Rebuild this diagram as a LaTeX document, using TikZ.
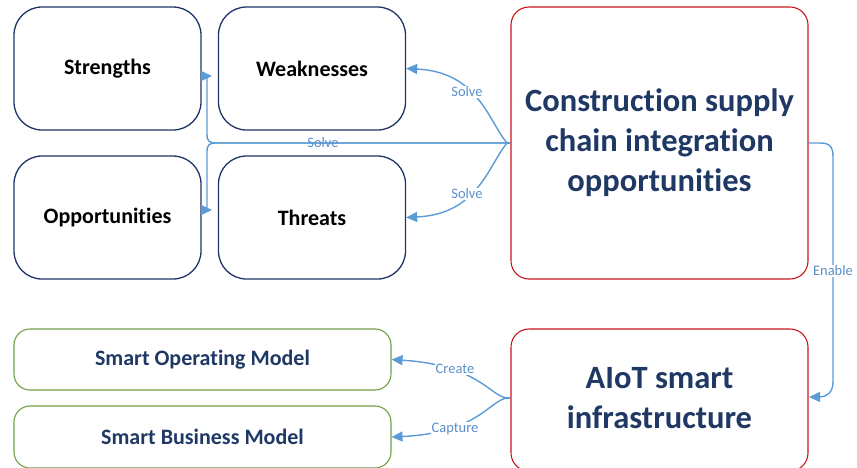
\documentclass[tikz,border=0pt]{standalone}
\usepackage{fontspec}
\setmainfont[Ligatures=NoCommon]{Carlito}
\usetikzlibrary{arrows.meta}
\definecolor{navy}{HTML}{1F3864}
\definecolor{boxnavy}{HTML}{1F3468}
\definecolor{conn}{HTML}{5B9BD5}
\definecolor{redb}{HTML}{C8161D}
\definecolor{greenb}{HTML}{6FA04A}
\definecolor{labelc}{HTML}{5B8FC8}
\tikzset{
  swot/.style={draw=boxnavy, line width=1.3pt, rounded corners=28pt, minimum width=187pt, minimum height=123pt,
    font=\fontsize{22}{26}\selectfont\bfseries, text=black},
  bigtext/.style={font=\fontsize{32.5}{40}\selectfont\bfseries, text=navy, align=center},
  bigbox/.style={draw=redb, line width=1.1pt, rounded corners=18pt, minimum width=297pt, bigtext},
  modelbox/.style={draw=greenb, line width=1.1pt, rounded corners=16pt, minimum width=377pt,
    font=\fontsize{22}{26}\selectfont\bfseries, text=navy},
  cn/.style={draw=conn, line width=1.4pt},
  cna/.style={cn, -{Triangle[length=11pt,width=10pt]}},
  lbl/.style={fill=white, inner sep=1pt, text=labelc, font=\fontsize{14.5}{16}\selectfont}
}
\begin{document}
\begin{tikzpicture}[x=1pt,y=-1pt]
\useasboundingbox (0,0) rectangle (857,467);
\clip (0,0) rectangle (857,467);
\node[swot] (S) at (107.5,68.5) {Strengths};
\node[swot] (W) at (312,68.5) {Weaknesses};
\node[swot] (O) at (107.5,217.5) {Opportunities};
\node[swot] (T) at (312,217.5) {Threats};
\node[bigbox, minimum height=272pt] (C) at (659.5,143) {Construction supply\\chain integration\\opportunities};
\node[bigbox, minimum height=142pt] (A) at (659.5,400) {};
\node[bigtext] (At) at (659.5,398) {AIoT smart\\infrastructure};
\node[modelbox, minimum height=61pt] (M1) at (202.5,359.5) {Smart Operating Model};
\node[modelbox, minimum height=62pt] (M2) at (202.5,437) {};
\node[font=\fontsize{22}{26}\selectfont\bfseries, text=navy] (M2t) at (202.5,437) {Smart Business Model};

% Solve connectors
\coordinate (j1) at (507,143);
\coordinate (s1) at (212,76);
\coordinate (o1) at (212,210);
\draw[cn] (C.west) -- (j1);
\draw[cna] (j1) -- (216,143) .. controls (209,143) and (207,141) .. (207,134) -- (207,76) -- (s1);
\draw[cna] (j1) -- (216,143) .. controls (209,143) and (207,145) .. (207,152) -- (207,210) -- (o1);
\node[lbl, fill=none] (L0) at (323,143) {Solve};
\draw[cna] (j1) .. controls (488,120) and (478,72) .. (W.east);
\node[lbl] (L1) at (467,92) {Solve};
\draw[cna] (j1) .. controls (488,166) and (478,214) .. (T.east);
\node[lbl] (L2) at (467,194) {Solve};

% Enable
\coordinate (e1) at (809,397);
\draw[cna] (C.east) -- (820,143) .. controls (830,143) and (833,147) .. (833,157) -- (833,382) .. controls (833,393) and (826,397) .. (e1);
\node[lbl] (L3) at (833,271) {Enable};

% Create / Capture
\coordinate (j2) at (507,398);
\draw[cn] (A.west |- j2) -- (j2);
\draw[cna] (j2) .. controls (490,396) and (478,365) .. (M1.east);
\node[lbl] (L4) at (455,369) {Create};
\draw[cna] (j2) .. controls (490,400) and (478,433) .. (M2.east);
\node[lbl] (L5) at (455,429) {Capture};
\end{tikzpicture}
\end{document}
